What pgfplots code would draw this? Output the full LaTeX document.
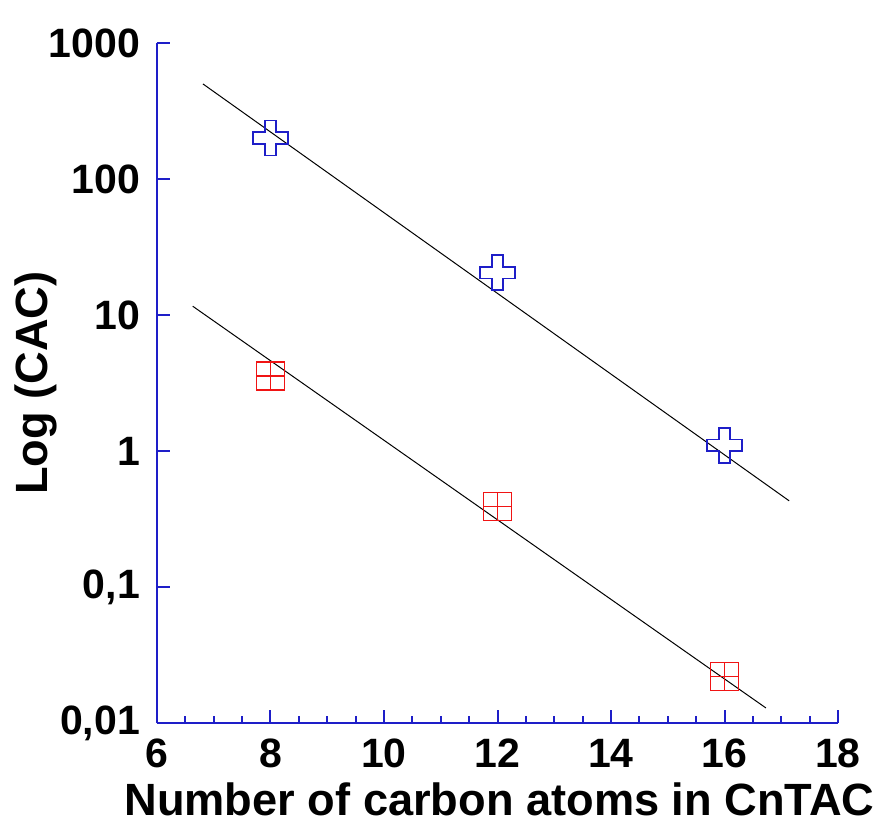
\documentclass[border=0pt]{standalone}
\usepackage{pgfplots}
\pgfplotsset{compat=1.18}
\usepackage{fontspec}
\setmainfont{Liberation Sans}
\definecolor{axblue}{RGB}{30,30,200}
\definecolor{mkred}{RGB}{240,20,20}
\pgfdeclareplotmark{crossout}{%
  \pgfpathmoveto{\pgfqpoint{-0.333\pgfplotmarksize}{\pgfplotmarksize}}%
  \pgfpathlineto{\pgfqpoint{0.333\pgfplotmarksize}{\pgfplotmarksize}}%
  \pgfpathlineto{\pgfqpoint{0.333\pgfplotmarksize}{0.333\pgfplotmarksize}}%
  \pgfpathlineto{\pgfqpoint{\pgfplotmarksize}{0.333\pgfplotmarksize}}%
  \pgfpathlineto{\pgfqpoint{\pgfplotmarksize}{-0.333\pgfplotmarksize}}%
  \pgfpathlineto{\pgfqpoint{0.333\pgfplotmarksize}{-0.333\pgfplotmarksize}}%
  \pgfpathlineto{\pgfqpoint{0.333\pgfplotmarksize}{-\pgfplotmarksize}}%
  \pgfpathlineto{\pgfqpoint{-0.333\pgfplotmarksize}{-\pgfplotmarksize}}%
  \pgfpathlineto{\pgfqpoint{-0.333\pgfplotmarksize}{-0.333\pgfplotmarksize}}%
  \pgfpathlineto{\pgfqpoint{-\pgfplotmarksize}{-0.333\pgfplotmarksize}}%
  \pgfpathlineto{\pgfqpoint{-\pgfplotmarksize}{0.333\pgfplotmarksize}}%
  \pgfpathlineto{\pgfqpoint{-0.333\pgfplotmarksize}{0.333\pgfplotmarksize}}%
  \pgfpathclose
  \pgfusepathqstroke}
\pgfdeclareplotmark{boxplus}{%
  \pgfpathrectangle{\pgfqpoint{-\pgfplotmarksize}{-\pgfplotmarksize}}{\pgfqpoint{2\pgfplotmarksize}{2\pgfplotmarksize}}%
  \pgfpathmoveto{\pgfqpoint{-\pgfplotmarksize}{0pt}}%
  \pgfpathlineto{\pgfqpoint{\pgfplotmarksize}{0pt}}%
  \pgfpathmoveto{\pgfqpoint{0pt}{-\pgfplotmarksize}}%
  \pgfpathlineto{\pgfqpoint{0pt}{\pgfplotmarksize}}%
  \pgfusepathqstroke}
\begin{document}
\begin{tikzpicture}
\begin{axis}[
  name=ax,
  scale only axis,
  width=340.5pt, height=340pt,
  xmin=6, xmax=18, ymin=0.01, ymax=1000,
  ymode=log,
  axis x line*=bottom, axis y line*=left,
  axis line style={-, axblue, line width=1pt},
  every tick/.style={axblue, line width=1pt},
  tick align=inside,
  major tick length=6.5pt, minor tick length=3.5pt,
  xtick={6,8,10,12,14,16,18},
  xticklabels={6,8,10,12,14,16,18},
  minor x tick num=3,
  ytick={0.01,0.1,1,10,100,1000},
  yticklabels={{0,01},{0,1},1,10,100,1000},
  log basis y=10,
  /pgf/number format/assume math mode=true,
  tick label style={font=\fontsize{20.5}{24}\selectfont\bfseries},
  xticklabel style={yshift=-4.5pt},
  yticklabel style={xshift=-5pt},
  xlabel={Number of carbon atoms in CnTAC},
  ylabel={Log (CAC)},
  label style={font=\fontsize{22.6}{27}\selectfont\bfseries},
  xlabel style={inner sep=0pt, yshift=-4pt, xshift=1pt},
  ylabel style={yshift=-11pt},
  clip=false,
]
\addplot[black, line width=0.5pt] coordinates {(6.81,500) (17.14,0.43)};
\addplot[black, line width=0.5pt] coordinates {(6.63,11.6) (16.73,0.0129)};
\addplot[only marks, mark=crossout, mark size=8.75pt, mark options={axblue, line width=0.85pt}] coordinates {(8,200) (12,20.5) (16,1.1)};
\addplot[only marks, mark=boxplus, mark size=7pt, mark options={mkred, line width=0.8pt}] coordinates {(8,3.55) (12,0.39) (16,0.022)};
\end{axis}
\pgfresetboundingbox
\path (ax.south west) ++(-78.5pt,-51pt) rectangle ++(442pt,412.5pt);
\end{tikzpicture}
\end{document}
